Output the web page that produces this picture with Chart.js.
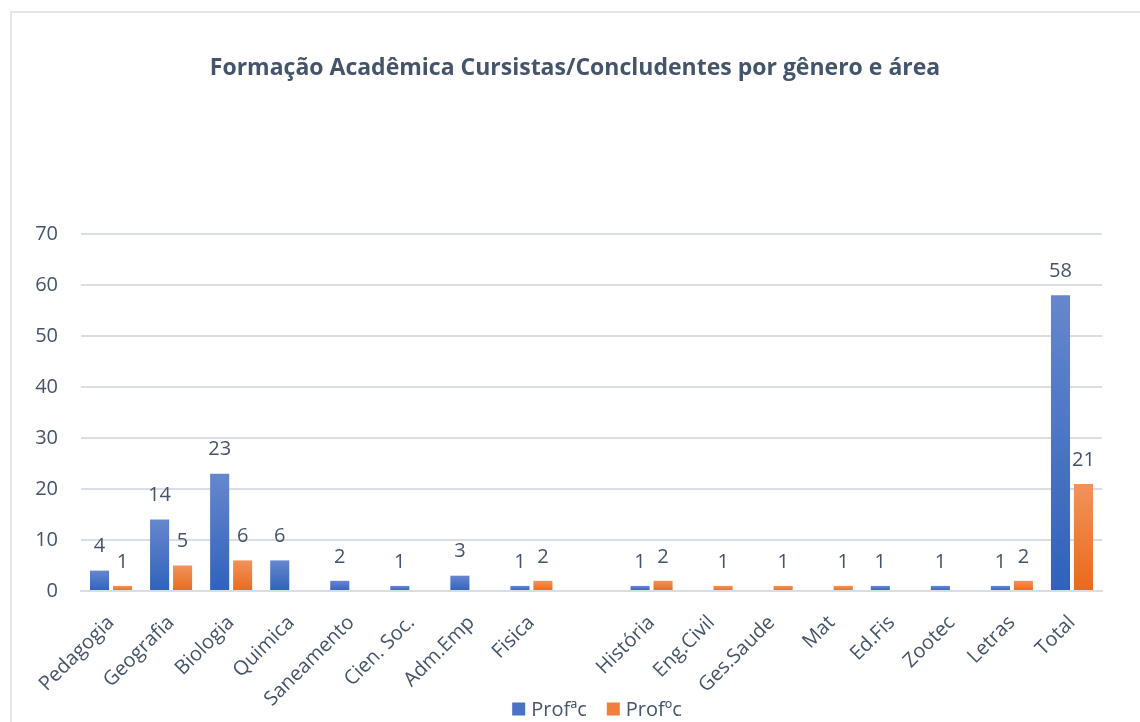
<!DOCTYPE html>
<html>
<head>
<meta charset="utf-8">
<script src="https://cdn.jsdelivr.net/npm/chart.js@4.4.1/dist/chart.umd.min.js"></script>
<style>
  html, body { margin: 0; padding: 0; background: #ffffff; overflow: hidden; }
  #wrap { position: relative; width: 1140px; height: 722px; }
  #frame { position: absolute; left: 10px; top: 11px; width: 1140px; height: 730px;
           border: 2px solid #e3e6eb; box-sizing: border-box; }
  #cv { position: absolute; left: 0; top: 0; }
</style>
</head>
<body>
<div id="wrap">
  <div id="frame"></div>
  <canvas id="cv" width="1140" height="722"></canvas>
</div>
<script>
// Areas of academic training (an empty slot separates the two groups)
const categories = ['Pedagogia', 'Geografia', 'Biologia', 'Quimica', 'Saneamento', 'Cien. Soc.',
  'Adm.Emp', 'Fisica', '', 'História', 'Eng.Civil', 'Ges.Saude', 'Mat', 'Ed.Fis', 'Zootec',
  'Letras', 'Total'];
const profaC = [4, 14, 23, 6, 2, 1, 3, 1, null, 1, null, null, null, 1, 1, 1, 58];
const profoC = [1, 5, 6, null, null, null, null, 2, null, 2, 1, 1, 1, null, null, 2, 21];
const seriesNames = ['Profªc', 'Profºc'];
const yTicks = [0, 10, 20, 30, 40, 50, 60, 70];
const titleText = 'Formação Acadêmica Cursistas/Concludentes por gênero e área';

const TEXT = '#44546a';
const FONT = "'Open Sans', 'Noto Sans', sans-serif";
const FS = 20;

function barGradient(top, bottom) {
  return (ctx) => {
    const chart = ctx.chart;
    const y = chart.scales && chart.scales.y;
    if (!chart.chartArea || !y || ctx.raw == null) return bottom;
    const y0 = y.getPixelForValue(0);
    const y1 = y.getPixelForValue(ctx.raw);
    if (!isFinite(y0) || !isFinite(y1) || y0 === y1) return bottom;
    const g = chart.ctx.createLinearGradient(0, y1, 0, y0);
    g.addColorStop(0, top);
    g.addColorStop(1, bottom);
    return g;
  };
}

// Chart title, centred on the whole frame
const frameTitle = {
  id: 'frameTitle',
  afterDraw(chart) {
    const c = chart.ctx;
    c.save();
    c.font = `bold 23px ${FONT}`;
    c.fillStyle = TEXT;
    c.textAlign = 'center';
    c.textBaseline = 'middle';
    c.fillText(titleText, 575, 68);
    c.restore();
  }
};

// Value labels drawn above each bar
const valueLabels = {
  id: 'valueLabels',
  afterDatasetsDraw(chart) {
    const c = chart.ctx;
    c.save();
    c.font = `${FS}px ${FONT}`;
    c.fillStyle = TEXT;
    c.textAlign = 'center';
    c.textBaseline = 'middle';
    chart.data.datasets.forEach((ds, i) => {
      chart.getDatasetMeta(i).data.forEach((bar, j) => {
        const v = ds.data[j];
        if (v == null) return;
        c.fillText(String(v), bar.x, bar.y - 24);
      });
    });
    c.restore();
  }
};

// Legend drawn centered along the bottom edge
const bottomLegend = {
  id: 'bottomLegend',
  afterDraw(chart) {
    const c = chart.ctx;
    c.save();
    c.font = `${FS}px ${FONT}`;
    c.textBaseline = 'middle';
    const box = 13, gapBoxText = 6, gapItems = 20, cy = 709;
    const items = chart.data.datasets.map(ds => ({ text: ds.label, color: ds.legendColor }));
    let total = 0;
    items.forEach((it, k) => {
      it.w = c.measureText(it.text).width;
      total += box + gapBoxText + it.w + (k < items.length - 1 ? gapItems : 0);
    });
    let x = 597 - total / 2;
    items.forEach(it => {
      c.fillStyle = it.color;
      c.fillRect(x, cy - box / 2, box, box);
      x += box + gapBoxText;
      c.fillStyle = TEXT;
      c.textAlign = 'left';
      c.fillText(it.text, x, cy + 1);
      x += it.w + gapItems;
    });
    c.restore();
  }
};

new Chart(document.getElementById('cv'), {
  type: 'bar',
  data: {
    labels: categories,
    datasets: [
      { label: seriesNames[0], data: profaC, legendColor: '#4a73c8',
        backgroundColor: barGradient('#6687cd', '#2f62bb') },
      { label: seriesNames[1], data: profoC, legendColor: '#ef7f3a',
        backgroundColor: barGradient('#f0935c', '#e96a1c') }
    ]
  },
  options: {
    responsive: false,
    animation: false,
    datasets: { bar: { categoryPercentage: 0.765, barPercentage: 0.83 } },
    layout: { padding: { left: 20, right: 38, top: 234, bottom: 0 } },
    plugins: {
      legend: { display: false },
      tooltip: { enabled: false },
      title: { display: false }
    },
    scales: {
      x: {
        grid: { display: false },
        border: { display: true, color: '#d9dde4', width: 2 },
        ticks: {
          color: TEXT, font: { family: FONT, size: FS },
          maxRotation: 45, minRotation: 45, autoSkip: false, padding: 12
        },
        afterFit(scale) { scale.height = 131; }
      },
      y: {
        min: 0, max: 70,
        afterBuildTicks(scale) { scale.ticks = yTicks.map(v => ({ value: v })); },
        grid: { color: '#d9dde4', lineWidth: 2, drawTicks: false },
        border: { display: false },
        ticks: { color: TEXT, font: { family: FONT, size: FS }, padding: 23 },
        afterFit(scale) { scale.width = 61; }
      }
    }
  },
  plugins: [valueLabels, bottomLegend, frameTitle]
});
</script>
</body>
</html>
